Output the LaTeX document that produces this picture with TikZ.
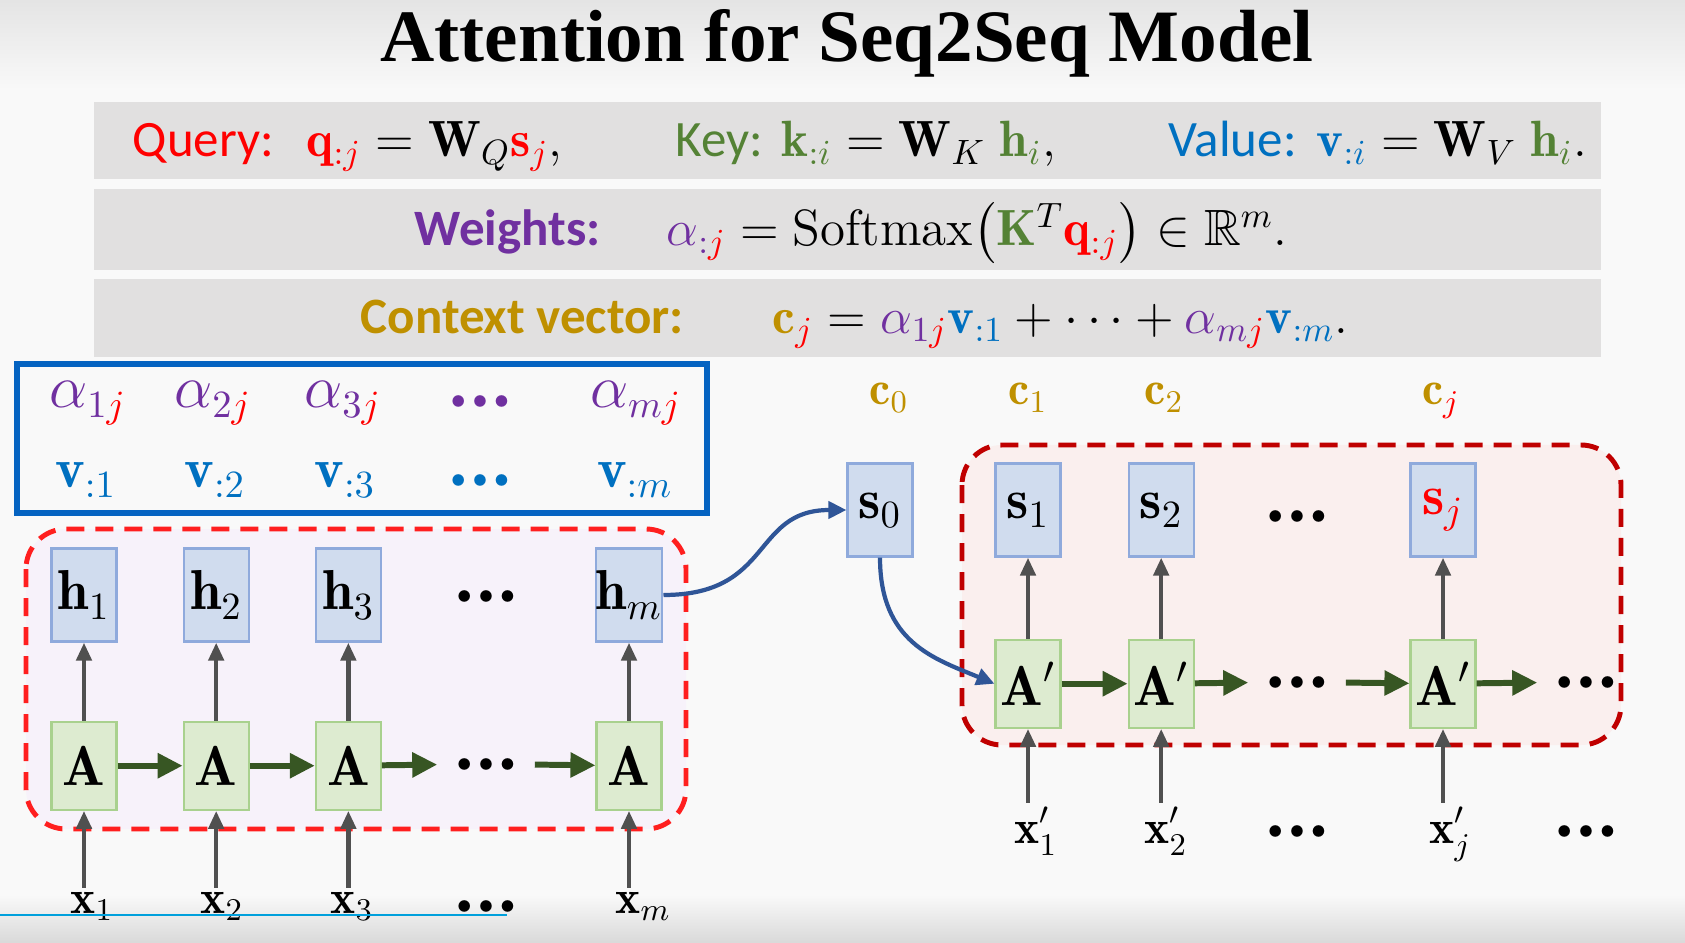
\documentclass[tikz,border=0pt]{standalone}
\usepackage{amsmath,amssymb,mathtools}
\usepackage{fontspec}
\setsansfont{Carlito}
\newfontfamily\titleserif{Liberation Serif}
\usepackage{xcolor}
\usepackage{tikz}
\usetikzlibrary{arrows.meta,positioning,calc}

\definecolor{qred}{HTML}{FF0000}
\definecolor{kgreen}{HTML}{548235}
\definecolor{vblue}{HTML}{0070C0}
\definecolor{wpurple}{HTML}{7030A0}
\definecolor{cgold}{HTML}{BF9000}
\definecolor{bandgray}{HTML}{E1E0E0}
\definecolor{bgwhite}{HTML}{F9F9F9}
\definecolor{topgray}{HTML}{E4E4E4}
\definecolor{botgray}{HTML}{D9D9D9}
\definecolor{boxblue}{HTML}{0563C1}
\definecolor{hidfill}{HTML}{D0DCEE}
\definecolor{hiddraw}{HTML}{8FAADC}
\definecolor{cellfill}{HTML}{DDEBD0}
\definecolor{celldraw}{HTML}{A9D18E}
\definecolor{rnngreen}{HTML}{375623}
\definecolor{arrgray}{HTML}{505050}
\definecolor{linkblue}{HTML}{2F5597}
\definecolor{encred}{HTML}{FF1F1F}
\definecolor{encfill}{HTML}{F7F2FA}
\definecolor{decred}{HTML}{C00000}
\definecolor{decfill}{HTML}{FAEFEE}
\definecolor{barcyan}{HTML}{00A0DC}

\newcommand{\colQ}[1]{\textcolor{qred}{#1}}
\newcommand{\colK}[1]{\textcolor{kgreen}{#1}}
\newcommand{\colV}[1]{\textcolor{vblue}{#1}}
\newcommand{\colW}[1]{\textcolor{wpurple}{#1}}
\newcommand{\colC}[1]{\textcolor{cgold}{#1}}
\newcommand{\tdots}{\ensuremath{{\bullet}\mkern4mu{\bullet}\mkern4mu{\bullet}}}
\newcommand{\bandfont}{\fontsize{14.5}{17}\selectfont}
\newcommand{\netfont}{\fontsize{16}{19}\selectfont}
\newcommand{\iofont}{\fontsize{13.5}{16}\selectfont}
\newcommand{\dotfont}{\fontsize{8}{10}\selectfont}

\begin{document}
\begin{tikzpicture}[x=0.01cm,y=-0.01cm,
    >={Triangle[length=1.8mm,width=1.5mm]},
    bandlabel/.style={font=\sffamily\bandfont,anchor=base west,inner sep=0pt},
    bandeq/.style={font=\bandfont,anchor=base west,inner sep=0pt},
    hidden/.style={draw=hiddraw,fill=hidfill,line width=0.6pt,
      minimum width=0.65cm,minimum height=0.93cm,inner sep=0pt,font=\netfont},
    cell/.style={draw=celldraw,fill=cellfill,line width=0.6pt,
      minimum width=0.65cm,minimum height=0.88cm,inner sep=0pt,font=\netfont},
    entry/.style={font=\netfont,inner sep=1pt,anchor=base},
    io/.style={font=\iofont,inner sep=1pt,anchor=base},
    gap/.style={font=\dotfont,text height=4pt,text depth=0pt,
      inner xsep=0.19cm,inner ysep=0pt},
    up/.style={->,line width=1.3pt,draw=arrgray},
    recur/.style={-{Triangle[length=2.5mm,width=2.4mm]},line width=1.7pt,draw=rnngreen},
    link/.style={-{Triangle[length=1.8mm,width=1.7mm]},line width=1.2pt,draw=linkblue},
    encbox/.style={draw=encred,fill=encfill,line width=1.4pt,
      dash pattern=on 1.8mm off 1.1mm,rounded corners=0.4cm},
    decbox/.style={draw=decred,fill=decfill,line width=1.4pt,
      dash pattern=on 1.8mm off 1.1mm,rounded corners=0.4cm},
    weightbox/.style={draw=boxblue,line width=1.9pt}
  ]
    % Slide background.
    \fill[bgwhite] (0,0) rectangle (1685,943);
    \useasboundingbox (0,0) rectangle (1685,943);
    \shade[top color=topgray,bottom color=bgwhite] (0,0) rectangle (1685,90);
    \shade[top color=bgwhite,bottom color=botgray] (0,895) rectangle (1685,943);
    \node[anchor=base,inner sep=0pt] (title) at (847,62)
      {\resizebox{9.32cm}{0.52cm}{\titleserif\bfseries Attention for Seq2Seq Model}};

    % Query, key, value.
    \fill[bandgray] (94,102) rectangle (1601,179);
    \node[bandlabel,text=qred] (qlab) at (132,157) {Query:};
    \node[bandeq] (qeq) at (306,157)
      {$\colQ{\mathbf{q}_{:j}} = \mathbf{W}_{Q}\colQ{\mathbf{s}_{j}},$};
    \node[bandlabel,text=kgreen] (klab) at (675,157) {Key:};
    \node[bandeq] (keq) at (781,157)
      {$\colK{\mathbf{k}_{:i}} = \mathbf{W}_{K}\;\colK{\mathbf{h}_{i}},$};
    \node[bandlabel,text=vblue] (vlab) at (1168,157) {Value:};
    \node[bandeq] (veq) at (1316,157)
      {$\colV{\mathbf{v}_{:i}} = \mathbf{W}_{V}\;\colK{\mathbf{h}_{i}}.$};

    % Weights.
    \fill[bandgray] (94,189) rectangle (1601,270);
    \node[bandlabel,font=\sffamily\bfseries\bandfont,text=wpurple] (wlab)
      at (414,246) {Weights:};
    \node[bandeq] (weq) at (666,246)
      {$\colW{\alpha_{:\colQ{j}}} = \mathrm{Softmax}\big(\colK{\mathbf{K}}^{T}
      \colQ{\mathbf{q}_{:j}}\big) \in \mathbb{R}^{m}.$};

    % Context vector.
    \fill[bandgray] (94,279) rectangle (1601,357);
    \node[bandlabel,font=\sffamily\bfseries\bandfont,text=cgold] (clab)
      at (360,334) {Context vector:};
    \node[bandeq] (ceq) at (772,334)
      {$\colC{\mathbf{c}_{\colQ{j}}} = \colW{\alpha_{1\colQ{j}}}\colV{\mathbf{v}_{:1}}
      + \cdots + \colW{\alpha_{m\colQ{j}}}\colV{\mathbf{v}_{:m}}.$};

    % Weights and values of the encoder states.
    \draw[weightbox] (17,364) rectangle (707,513);
    \node[entry] (al1) at (88,408) {$\colW{\alpha_{1\colQ{j}}}$};
    \node[entry] (al2) at (213,408) {$\colW{\alpha_{2\colQ{j}}}$};
    \node[entry] (al3) at (343,408) {$\colW{\alpha_{3\colQ{j}}}$};
    \node[gap,text=wpurple] (aldots) at (480,401) {\tdots};
    \node[entry] (alm) at (636,408) {$\colW{\alpha_{m\colQ{j}}}$};
    \node[entry] (v1) at (86,488) {$\colV{\mathbf{v}_{:1}}$};
    \node[entry] (v2) at (215,488) {$\colV{\mathbf{v}_{:2}}$};
    \node[entry] (v3) at (345,488) {$\colV{\mathbf{v}_{:3}}$};
    \node[gap,text=vblue] (vdots) at (480,480) {\tdots};
    \node[entry] (vm) at (635,488) {$\colV{\mathbf{v}_{:m}}$};

    % Encoder.
    \draw[encbox] (26,529) rectangle (686,829);
    \node[hidden] (h1) at (84,595) {$\mathbf{h}_1$};
    \node[hidden,right=0.65cm of h1] (h2) {$\mathbf{h}_2$};
    \node[hidden,right=0.65cm of h2] (h3) {$\mathbf{h}_3$};
    \node[gap] (hdots) at (486,596) {\tdots};
    \node[hidden] (hm) at (629,595) {$\mathbf{h}_m$};
    \node[cell,below=0.78cm of h1] (a1) {$\mathbf{A}$};
    \node[cell,below=0.78cm of h2] (a2) {$\mathbf{A}$};
    \node[cell,below=0.78cm of h3] (a3) {$\mathbf{A}$};
    \node[gap] (adots) at (486,764) {\tdots};
    \node[cell,below=0.78cm of hm] (am) {$\mathbf{A}$};
    \node[io] (x1) at (84,913) {$\mathbf{x}_{\mathrlap{1}}$};
    \node[io] (x2) at (214,913) {$\mathbf{x}_{\mathrlap{2}}$};
    \node[io] (x3) at (344,913) {$\mathbf{x}_{\mathrlap{3}}$};
    \node[gap] (xdots) at (486,906) {\tdots};
    \node[io] (xm) at (629,913) {$\mathbf{x}_{\mathrlap{m}}$};

    \draw[up] (a1) -- (h1);
    \draw[up] (a2) -- (h2);
    \draw[up] (a3) -- (h3);
    \draw[up] (am) -- (hm);
    \draw[up] (a1 |- x1.north) -- (a1);
    \draw[up] (a2 |- x2.north) -- (a2);
    \draw[up] (a3 |- x3.north) -- (a3);
    \draw[up] (am |- xm.north) -- (am);
    \draw[recur] (a1) -- (a2);
    \draw[recur] (a2) -- (a3);
    \draw[recur] (a3) -- (adots);
    \draw[recur] (adots) -- (am);

    % Decoder.
    \draw[decbox] (962,445) rectangle (1621,745);
    \node[io,text=cgold] (c0) at (889,405) {$\mathbf{c}_0$};
    \node[io,text=cgold] (c1) at (1028,405) {$\mathbf{c}_1$};
    \node[io,text=cgold] (c2) at (1164,405) {$\mathbf{c}_2$};
    \node[io,text=cgold] (cj) at (1441,405) {$\mathbf{c}_{\colQ{j}}$};
    \node[hidden] (s0) at (880,510) {$\mathbf{s}_0$};
    \node[hidden] (s1) at (1028,510) {$\mathbf{s}_1$};
    \node[hidden,right=0.66cm of s1] (s2) {$\mathbf{s}_2$};
    \node[gap] (sdots) at (1297,516) {\tdots};
    \node[hidden] (sj) at (1443,510) {$\colQ{\mathbf{s}_j}$};
    \node[cell,below=0.81cm of s1] (b1) {$\mathbf{A}'$};
    \node[cell,below=0.81cm of s2] (b2) {$\mathbf{A}'$};
    \node[gap] (bdots) at (1297,682) {\tdots};
    \node[cell,below=0.81cm of sj] (bj) {$\mathbf{A}'$};
    \node[gap] (bnext) at (1586,682) {\tdots};
    \node[io] (y1) at (1028,843) {$\mathbf{x}^{\mathrlap{\prime}}_{\mathrlap{1}}$};
    \node[io] (y2) at (1158,843) {$\mathbf{x}^{\mathrlap{\prime}}_{\mathrlap{2}}$};
    \node[gap] (ydots) at (1297,831) {\tdots};
    \node[io] (yj) at (1443,843) {$\mathbf{x}^{\mathrlap{\prime}}_{\mathrlap{j}}$};
    \node[gap] (ynext) at (1586,831) {\tdots};

    \draw[up] (b1) -- (s1);
    \draw[up] (b2) -- (s2);
    \draw[up] (bj) -- (sj);
    \draw[up] (b1 |- y1.north) -- (b1);
    \draw[up] (b2 |- y2.north) -- (b2);
    \draw[up] (bj |- yj.north) -- (bj);
    \draw[recur] (b1) -- (b2);
    \draw[recur] (b2) -- (bdots);
    \draw[recur] (bdots) -- (bj);
    \draw[recur] (bj) -- (bnext);

    % Encoder state to decoder.
    \draw[link] (hm.east) .. controls +(110,0) and +(-95,0) .. (s0.west);
    \draw[link] (s0.south) .. controls +(0,85) and +(-60,-25) .. (b1.west);

    \draw[barcyan,line width=0.8pt] (0,915) -- (507,915);
  \end{tikzpicture}
\end{document}
